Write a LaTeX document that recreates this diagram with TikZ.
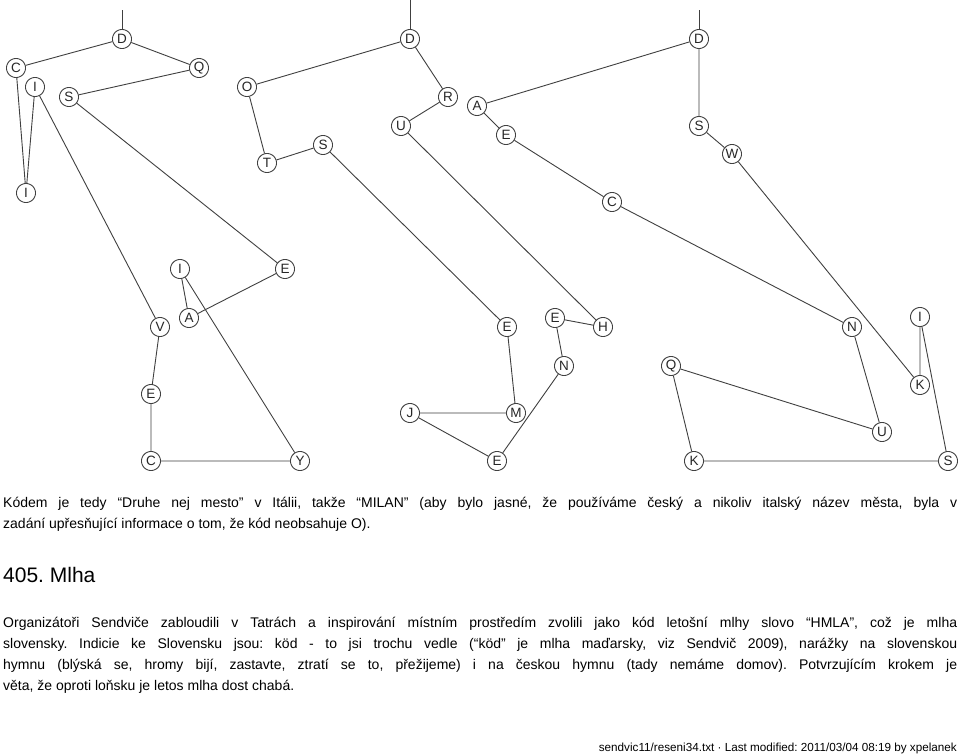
\documentclass[tikz,border=0pt]{standalone}
\usepackage{fontspec}
\setmainfont{Liberation Sans}
\usetikzlibrary{shapes.geometric}
\frenchspacing
\hyphenpenalty=10000
\exhyphenpenalty=10000
\tikzset{
  % a letter in its ring
  ring/.style = {regular polygon, regular polygon sides=40,
                 draw=black!75, line width=0.9pt, inner sep=0pt,
                 minimum size=19pt, text=black!85,
                 font=\fontsize{13.5}{13.5}\selectfont},
  % a stroke between two letters
  ln/.style   = {draw=black!75, line width=0.9pt},
  % a paragraph of the solution
  txt/.style  = {inner sep=0pt, text width=954pt, align=justify,
                 font=\fontsize{14}{21}\selectfont},
  % the heading of the next puzzle
  head/.style = {inner sep=0pt, font=\fontsize{21}{21}\selectfont},
  % the page footer
  foot/.style = {inner sep=0pt, font=\fontsize{11.7}{12}\selectfont},
}

\begin{document}
\begin{tikzpicture}[x=1pt, y=-1pt]
  \fill[white] (0,0) rectangle (960,755);
  \useasboundingbox (0,0) rectangle (960,755);
  % text below
  \node[txt, anchor=base west] (p1) at (3,507)
    {Kódem je tedy “Druhe nej mesto” v Itálii, takže “MILAN” (aby bylo jasné,
     že používáme český a nikoliv italský název města, byla v\linebreak
     zadání upřesňující informace o tom, že kód neobsahuje O).};
  \node[head, anchor=base west] (h405) at (3,582) {405. Mlha};
  \node[txt, anchor=base west] (p2) at (3,627)
    {Organizátoři Sendviče zabloudili v Tatrách a inspirování místním
     prostředím zvolili jako kód letošní mlhy slovo “HMLA”, což je mlha\linebreak
     slovensky. Indicie ke Slovensku jsou: köd - to jsi trochu vedle (“köd” je
     mlha maďarsky, viz Sendvič 2009), narážky na slovenskou\linebreak
     hymnu (blýská se, hromy bijí, zastavte, ztratí se to, přežijeme) i na
     českou hymnu (tady nemáme domov). Potvrzujícím krokem je\linebreak
     věta, že oproti loňsku je letos mlha dost chabá.};
  \node[foot, anchor=base east] (ft) at (957,751)
    {sendvic11/reseni34.txt · Last modified: 2011/03/04 08:19 by xpelanek};
  % left group
  \coordinate (t1) at (122,10);
  \node[ring] (d1) at (122, 39) {D};
  \node[ring] (c1) at ( 16, 68) {C};
  \node[ring] (q1) at (199, 68) {Q};
  \node[ring] (i1) at ( 35, 87) {I};
  \node[ring] (s1) at ( 69, 97) {S};
  \node[ring] (i2) at ( 26,193) {I};
  \node[ring] (i3) at (180,269) {I};
  \node[ring] (e2) at (285,269) {E};
  \node[ring] (a1) at (189,318) {A};
  \node[ring] (v1) at (160,327) {V};
  \node[ring] (e3) at (151,394) {E};
  \node[ring] (c2) at (151,461) {C};
  \node[ring] (y1) at (300,461) {Y};
  % middle group
  \coordinate (t2) at (410,0);
  \node[ring] (d2) at (410, 39) {D};
  \node[ring] (o1) at (247, 87) {O};
  \node[ring] (r1) at (448, 97) {R};
  \node[ring] (u1) at (401,126) {U};
  \node[ring] (s2) at (323,145) {S};
  \node[ring] (t3) at (267,163) {T};
  \node[ring] (e5) at (507,327) {E};
  \node[ring] (e6) at (555,318) {E};
  \node[ring] (h1) at (603,327) {H};
  \node[ring] (n1) at (564,366) {N};
  \node[ring] (j1) at (410,413) {J};
  \node[ring] (m1) at (516,413) {M};
  \node[ring] (e7) at (497,461) {E};
  % right group
  \coordinate (t4) at (699,10);
  \node[ring] (d3) at (699, 39) {D};
  \node[ring] (a2) at (477,106) {A};
  \node[ring] (e4) at (506,135) {E};
  \node[ring] (s3) at (699,126) {S};
  \node[ring] (w1) at (732,154) {W};
  \node[ring] (c3) at (612,202) {C};
  \node[ring] (n2) at (852,327) {N};
  \node[ring] (i4) at (920,317) {I};
  \node[ring] (q2) at (671,366) {Q};
  \node[ring] (k1) at (920,385) {K};
  \node[ring] (u2) at (882,432) {U};
  \node[ring] (k2) at (694,461) {K};
  \node[ring] (s4) at (948,461) {S};
  % strokes, left
  \draw[ln] (t1) -- (d1);
  \draw[ln] (d1) -- (c1);
  \draw[ln] (d1) -- (q1);
  \draw[ln] (q1) -- (s1);
  \draw[ln] (s1) -- (e2);
  \draw[ln] (e2) -- (a1);
  \draw[ln] (a1) -- (i3);
  \draw[ln] (i3) -- (y1);
  \draw[ln] (y1) -- (c2);
  \draw[ln] (c2) -- (e3);
  \draw[ln] (e3) -- (v1);
  \draw[ln] (v1) -- (i1);
  \draw[ln] (i1) -- (i2);
  \draw[ln] (i2) -- (c1);
  % strokes, middle
  \draw[ln] (t2) -- (d2);
  \draw[ln] (d2) -- (o1);
  \draw[ln] (o1) -- (t3);
  \draw[ln] (t3) -- (s2);
  \draw[ln] (s2) -- (e5);
  \draw[ln] (e5) -- (m1);
  \draw[ln] (m1) -- (j1);
  \draw[ln] (j1) -- (e7);
  \draw[ln] (e7) -- (n1);
  \draw[ln] (n1) -- (e6);
  \draw[ln] (e6) -- (h1);
  \draw[ln] (h1) -- (u1);
  \draw[ln] (u1) -- (r1);
  \draw[ln] (r1) -- (d2);
  % strokes, right
  \draw[ln] (t4) -- (d3);
  \draw[ln] (d3) -- (a2);
  \draw[ln] (a2) -- (e4);
  \draw[ln] (e4) -- (c3);
  \draw[ln] (c3) -- (n2);
  \draw[ln] (n2) -- (u2);
  \draw[ln] (u2) -- (q2);
  \draw[ln] (q2) -- (k2);
  \draw[ln] (k2) -- (s4);
  \draw[ln] (s4) -- (i4);
  \draw[ln] (i4) -- (k1);
  \draw[ln] (k1) -- (w1);
  \draw[ln] (w1) -- (s3);
  \draw[ln] (s3) -- (d3);
\end{tikzpicture}
\end{document}
